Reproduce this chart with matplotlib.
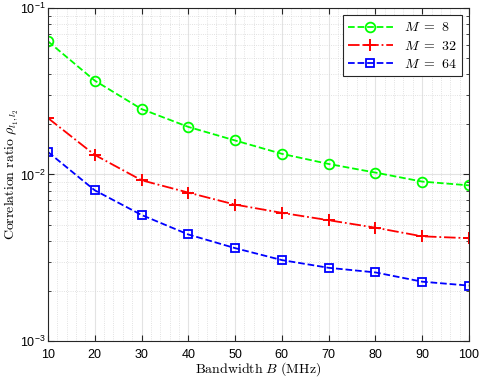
import matplotlib.pyplot as plt
from matplotlib.ticker import MultipleLocator, LogLocator, NullFormatter

# Data
bandwidth = [10, 20, 30, 40, 50, 60, 70, 80, 90, 100]
rho_m8 = [0.063, 0.0366, 0.0247, 0.0193, 0.0160, 0.0133, 0.01156, 0.01026, 0.00906, 0.0086]
rho_m32 = [0.0218, 0.0131, 0.00923, 0.00778, 0.00659, 0.00588, 0.00531, 0.00479, 0.00425, 0.00414]
rho_m64 = [0.01364, 0.00803, 0.00571, 0.00436, 0.00361, 0.00306, 0.00275, 0.00258, 0.00227, 0.00215]

plt.rcParams['mathtext.fontset'] = 'cm'
plt.rcParams['font.family'] = 'Liberation Sans'

fig = plt.figure(figsize=(4.8, 3.78), dpi=100)
ax = fig.add_axes([0.1, 0.098, 0.877, 0.881])

ax.plot(bandwidth, rho_m8, '--o', color=(0, 1, 0), lw=1.3, ms=7, mfc='none', mew=1.3, label=r'$M\ =\ 8$')
ax.plot(bandwidth, rho_m32, '-.+', color=(1, 0, 0), lw=1.3, ms=8, mew=1.4, label=r'$M\ =\ 32$')
ax.plot(bandwidth, rho_m64, '--s', color=(0, 0, 1), lw=1.3, ms=6, mfc='none', mew=1.3, label=r'$M\ =\ 64$')

ax.set_yscale('log')
ax.set_xlim(10, 100)
ax.set_ylim(1e-3, 1e-1)
ax.xaxis.set_major_locator(MultipleLocator(10))
ax.xaxis.set_minor_locator(MultipleLocator(2))
ax.yaxis.set_major_locator(LogLocator(base=10, numticks=10))
ax.yaxis.set_minor_locator(LogLocator(base=10, subs=range(2, 10), numticks=10))
ax.yaxis.set_minor_formatter(NullFormatter())

# MATLAB-like grid and ticks
ax.grid(True, which='major', color='#e3e3e3', lw=0.8, ls='-')
ax.grid(True, which='minor', color='#d8d8d8', lw=0.6, ls=':')
ax.set_axisbelow(True)
ax.tick_params(which='both', direction='in', top=True, right=True, labelsize=9, color='#262626')
ax.tick_params(axis='x', pad=6)
ax.tick_params(axis='y', pad=2)
ax.tick_params(which='major', length=4)
ax.tick_params(axis='y', which='minor', length=2.5)
ax.tick_params(axis='x', which='minor', length=0)
for s in ax.spines.values():
    s.set_color('#262626')
    s.set_linewidth(0.8)

ax.set_xlabel(r'$\mathrm{Bandwidth}\ B\ \mathrm{(MHz)}$', fontsize=10)
ax.xaxis.set_label_coords(0.5, -0.058)
ax.set_ylabel(r'$\mathrm{Correlation\ ratio}\ \rho_{l_1,l_2}$', fontsize=10)
ax.yaxis.set_label_coords(-0.067, 0.5)

leg = ax.legend(loc='upper right', fontsize=10, fancybox=False, framealpha=1,
                edgecolor='#262626', handlelength=3.2, borderpad=0.4, labelspacing=0.3)
leg.get_frame().set_linewidth(0.8)

fig.savefig('out.png', dpi=100)
